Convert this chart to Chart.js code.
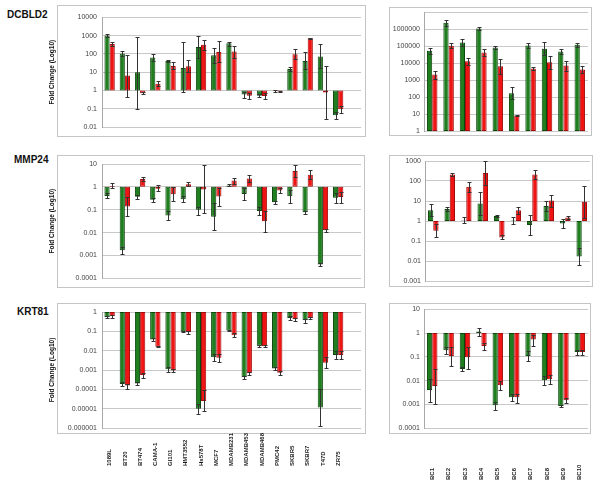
<!DOCTYPE html>
<html><head><meta charset="utf-8">
<script src="https://cdn.jsdelivr.net/npm/chart.js@4.4.1/dist/chart.umd.min.js"></script>
<style>
body{margin:0;width:600px;height:486px;background:#fff;position:relative;overflow:hidden;font-family:"Liberation Sans",Arial,sans-serif}
.box{position:absolute;border:1px solid #c4c4c4;box-sizing:border-box}
.gene{position:absolute;font-weight:bold;font-size:10px;line-height:10px;color:#111;white-space:nowrap}
canvas{position:absolute}
</style></head><body>
<div class="box" style="left:57px;top:5px;width:309px;height:132px"></div>
<div class="box" style="left:57px;top:155px;width:308px;height:133px"></div>
<div class="box" style="left:57px;top:303px;width:309px;height:131px"></div>
<div class="box" style="left:389px;top:7px;width:203px;height:129px"></div>
<div class="box" style="left:389px;top:155px;width:204px;height:132px"></div>
<div class="box" style="left:389px;top:303px;width:202px;height:131px"></div>
<div class="gene" style="left:7px;top:10px">DCBLD2</div>
<div class="gene" style="left:14px;top:155px">MMP24</div>
<div class="gene" style="left:17px;top:307px">KRT81</div>
<canvas id="c1" width="330" height="140" style="left:40px;top:0px"></canvas>
<canvas id="c2" width="215" height="140" style="left:380px;top:0px"></canvas>
<canvas id="c3" width="330" height="140" style="left:40px;top:150px"></canvas>
<canvas id="c4" width="215" height="140" style="left:380px;top:150px"></canvas>
<canvas id="c5" width="330" height="186" style="left:40px;top:300px"></canvas>
<canvas id="c6" width="215" height="186" style="left:380px;top:300px"></canvas>
<script>
// ---------- categories ----------
const cellLines = ['1089L','BT20','BT474','CAMA-1','GI101','HMT3552','Hs578T','MCF7','MDAMB231','MDAMB453','MDAMB468','PMC42','SKBR5','SKBR7','T47D','ZR75'];
const bcSamples = ['BC1','BC2','BC3','BC4','BC5','BC6','BC7','BC8','BC9','BC10'];

// ---------- DCBLD2, cell lines ----------
const dcbld2CellGreen   = [1000, 105, 10, 63, 41, 17, 240, 84, 380, 0.6, 0.51, 0.95, 15, 41, 71, 0.044];
const dcbld2CellGreenLo = [830, 75, 0.1, 40, 35, 0.78, 56, 30, 280, 0.4, 0.43, 0.86, 12, 15, 16, 0.026];
const dcbld2CellGreenHi = [1200, 144, 890, 100, 48, 420, 1000, 220, 420, 0.8, 0.6, 1.05, 20, 122, 335, 0.07];
const dcbld2CellRed     = [350, 6.6, 0.7, 2.3, 22, 21, 320, 125, 133, 0.51, 0.5, 0.88, 95, 720, 0.78, 0.094];
const dcbld2CellRedLo   = [270, 0.45, 0.62, 1.7, 14, 10, 170, 35, 60, 0.33, 0.33, 0.82, 50, 690, 0.026, 0.06];
const dcbld2CellRedHi   = [450, 87, 0.85, 3.2, 36, 46, 600, 500, 285, 0.75, 0.7, 0.95, 178, 745, 22.6, 0.14];
// ---------- DCBLD2, BC ----------
const dcbld2BcGreen   = [52000, 2300000, 160000, 1070000, 81000, 167, 107000, 69000, 48000, 117000];
const dcbld2BcGreenLo = [35000, 1600000, 100000, 850000, 67000, 75, 75000, 29000, 33000, 90000];
const dcbld2BcGreenHi = [81000, 3300000, 260000, 1350000, 98000, 375, 152000, 166000, 69000, 150000];
const dcbld2BcRed     = [2100, 102000, 12600, 42000, 6500, 8.1, 4700, 11000, 7100, 4200];
const dcbld2BcRedLo   = [1200, 72000, 8000, 27000, 2400, 7.6, 3900, 4500, 3600, 2500];
const dcbld2BcRedHi   = [3600, 145000, 19600, 66000, 18000, 8.6, 5600, 27000, 13800, 7000];
// ---------- MMP24, cell lines ----------
const mmp24CellGreen   = [0.4, 0.0017, 0.37, 0.27, 0.056, 0.29, 0.1, 0.049, 1.14, 0.49, 0.087, 0.21, 0.39, 0.078, 0.0004, 0.33];
const mmp24CellGreenLo = [0.33, 0.0012, 0.3, 0.22, 0.035, 0.21, 0.056, 0.013, 1.05, 0.27, 0.058, 0.18, 0.2, 0.068, 0.00035, 0.2];
const mmp24CellGreenHi = [0.52, 0.0023, 0.45, 0.34, 0.09, 0.4, 0.13, 0.2, 1.3, 0.9, 0.13, 0.25, 0.75, 0.09, 0.00045, 0.55];
const mmp24CellRed     = [1.1, 0.14, 2.2, 0.82, 0.48, 1.3, 0.76, 0.38, 1.9, 2.3, 0.031, 0.69, 4.9, 3.4, 0.0127, 0.36];
const mmp24CellRedLo   = [0.85, 0.053, 1.8, 0.65, 0.25, 1.05, 0.07, 0.14, 1.4, 1.6, 0.011, 0.55, 2.8, 2.1, 0.011, 0.2];
const mmp24CellRedHi   = [1.45, 0.35, 2.7, 1.2, 0.95, 1.7, 9.2, 0.9, 2.5, 3.4, 0.09, 0.85, 8.9, 5.5, 0.015, 0.62];
// ---------- MMP24, BC ----------
const mmp24BcGreen   = [3.4, 4.0, 1.05, 7.5, 1.8, 1.05, 0.63, 5.6, 0.74, 0.017];
const mmp24BcGreenLo = [1.7, 3.2, 0.75, 2.1, 1.5, 0.68, 0.2, 3.2, 0.43, 0.0065];
const mmp24BcGreenHi = [6.7, 5.0, 1.5, 27, 2.1, 1.6, 2.1, 9.9, 1.25, 0.045];
const mmp24BcRed     = [0.33, 210, 51, 250, 0.15, 3.4, 210, 10.6, 1.5, 9.1];
const mmp24BcRedLo   = [0.15, 170, 29, 63, 0.12, 2.3, 130, 5.3, 1.25, 1.4];
const mmp24BcRedHi   = [0.72, 260, 90, 1000, 0.19, 5.0, 340, 21, 1.8, 59];
// ---------- KRT81, cell lines ----------
const krt81CellGreen   = [0.55, 0.00019, 0.0002, 0.038, 0.0011, 0.1, 0.00001, 0.0045, 0.11, 0.00042, 0.018, 0.0012, 0.49, 0.37, 0.0000115, 0.0059];
const krt81CellGreenLo = [0.5, 0.00015, 0.00017, 0.033, 0.0008, 0.093, 0.0000052, 0.0029, 0.1, 0.00035, 0.016, 0.001, 0.4, 0.28, 0.0000013, 0.0035];
const krt81CellGreenHi = [0.65, 0.00025, 0.00024, 0.045, 0.0014, 0.11, 0.000018, 0.007, 0.12, 0.0005, 0.02, 0.0015, 0.6, 0.45, 0.0001, 0.01];
const krt81CellRed     = [0.6, 0.00016, 0.00055, 0.016, 0.00095, 0.089, 0.000025, 0.0043, 0.063, 0.00067, 0.017, 0.00072, 0.42, 0.49, 0.0024, 0.0059];
const krt81CellRedLo   = [0.5, 0.00011, 0.0004, 0.015, 0.0008, 0.077, 0.0000072, 0.0025, 0.048, 0.00058, 0.015, 0.00055, 0.35, 0.44, 0.0012, 0.0035];
const krt81CellRedHi   = [0.7, 0.0002, 0.0007, 0.018, 0.0011, 0.1, 0.00009, 0.007, 0.08, 0.0008, 0.019, 0.0009, 0.5, 0.55, 0.0045, 0.01];
// ---------- KRT81, BC ----------
const krt81BcGreen   = [0.0041, 0.19, 0.031, 1.17, 0.00093, 0.002, 0.11, 0.0104, 0.00087, 0.16];
const krt81BcGreenLo = [0.0013, 0.13, 0.026, 0.77, 0.0006, 0.0014, 0.067, 0.0065, 0.00077, 0.12];
const krt81BcGreenHi = [0.0115, 0.25, 0.036, 1.7, 0.0013, 0.0028, 0.18, 0.016, 0.001, 0.2];
const krt81BcRed     = [0.006, 0.11, 0.096, 0.29, 0.0064, 0.002, 0.54, 0.0115, 0.0015, 0.16];
const krt81BcRedLo   = [0.0011, 0.041, 0.031, 0.19, 0.0041, 0.0012, 0.29, 0.007, 0.0012, 0.12];
const krt81BcRedHi   = [0.031, 0.27, 0.27, 0.4, 0.01, 0.0028, 0.8, 0.018, 0.0018, 0.2];

// ---------- y tick values & labels ----------
const dcbld2CellTicks = [0.01, 0.1, 1, 10, 100, 1000, 10000];
const dcbld2CellTickLabels = ['0.01','0.1','1','10','100','1000','10000'];
const dcbld2BcTicks = [1, 10, 100, 1000, 10000, 100000, 1000000, 10000000];
const dcbld2BcTickLabels = ['1','10','100','1000','10000','100000','1000000',''];
const mmp24CellTicks = [0.0001, 0.001, 0.01, 0.1, 1, 10];
const mmp24CellTickLabels = ['0.0001','0.001','0.01','0.1','1','10'];
const mmp24BcTicks = [0.001, 0.01, 0.1, 1, 10, 100, 1000];
const mmp24BcTickLabels = ['0.001','0.01','0.1','1','10','100','1000'];
const krt81CellTicks = [0.000001, 0.00001, 0.0001, 0.001, 0.01, 0.1, 1];
const krt81CellTickLabels = ['0.000001','0.00001','0.0001','0.001','0.01','0.1','1'];
const krt81BcTicks = [0.0001, 0.001, 0.01, 0.1, 1, 10];
const krt81BcTickLabels = ['0.0001','0.001','0.01','0.1','1','10'];

const yTitle = 'Fold Change (Log10)';
const GREEN = '#1f7f1f', GREEN_EDGE = '#0c470c', RED = '#ee1414', RED_EDGE = '#a40b0b';

const errorBarPlugin = {
  id: 'errorBars',
  afterDatasetsDraw(chart) {
    const ctx = chart.ctx, ys = chart.scales.y;
    chart.data.datasets.forEach((ds, di) => {
      const meta = chart.getDatasetMeta(di);
      meta.data.forEach((bar, i) => {
        const x = Math.round(bar.x) + 0.5;
        const y1 = Math.round(ys.getPixelForValue(ds.errLo[i])) + 0.5;
        const y2 = Math.round(ys.getPixelForValue(ds.errHi[i])) + 0.5;
        ctx.save();
        ctx.strokeStyle = '#333';
        ctx.lineWidth = 1;
        ctx.beginPath();
        ctx.moveTo(x, y1); ctx.lineTo(x, y2);
        ctx.moveTo(x - 2, y1); ctx.lineTo(x + 2, y1);
        ctx.moveTo(x - 2, y2); ctx.lineTo(x + 2, y2);
        ctx.stroke();
        ctx.restore();
      });
    });
  }
};

const xLabelPlugin = {
  id: 'xLabels',
  afterDraw(chart, args, opts) {
    if (!opts.show) return;
    const ctx = chart.ctx, xs = chart.scales.x;
    ctx.save();
    ctx.font = 'bold 6px "Liberation Sans Narrow", "Liberation Sans", Arial, sans-serif';
    ctx.fillStyle = '#1a1a1a';
    ctx.textAlign = 'left';
    ctx.textBaseline = 'middle';
    chart.data.labels.forEach((lab, i) => {
      ctx.save();
      ctx.translate(xs.getPixelForValue(i), chart.chartArea.bottom + opts.offset);
      ctx.rotate(-Math.PI / 2);
      ctx.fillText(lab, 0, 0);
      ctx.restore();
    });
    ctx.restore();
  }
};

function makePanel(id, cats, g, gLo, gHi, r, rLo, rHi, ticks, tickLabels, geo) {
  const pts = arr => arr.map((v, i) => ({x: i, y: [1, v]}));
  new Chart(document.getElementById(id), {
    type: 'bar',
    data: {
      labels: cats,
      datasets: [
        {data: pts(g), errLo: gLo, errHi: gHi, backgroundColor: GREEN, borderColor: GREEN_EDGE, borderWidth: 1, borderSkipped: false},
        {data: pts(r), errLo: rLo, errHi: rHi, backgroundColor: RED, borderColor: RED_EDGE, borderWidth: 1, borderSkipped: false}
      ]
    },
    options: {
      responsive: false, animation: false, devicePixelRatio: 1,
      layout: {padding: {left: 0, top: geo.padTop, right: geo.padRight, bottom: geo.padBottom}},
      plugins: {legend: {display: false}, tooltip: {enabled: false},
        xLabels: {show: geo.xLabels, offset: geo.labelOffset}},
      datasets: {bar: {categoryPercentage: geo.catPct, barPercentage: 1}},
      scales: {
        x: {type: 'linear', display: false, min: -0.5, max: cats.length - 0.5 + geo.extraSlots, offset: false,
            afterBuildTicks: s => { s.ticks = cats.map((c, i) => ({value: i})); }},
        y: {type: 'logarithmic', min: ticks[0], max: ticks[ticks.length - 1],
            afterBuildTicks: s => { s.ticks = ticks.map(v => ({value: v})); },
            afterFit: s => { s.width = geo.axisW; },
            grid: {color: '#c8c8c8', lineWidth: 1, drawTicks: false},
            border: {display: true, color: '#a8a8a8'},
            ticks: {padding: geo.tickPad, color: '#444', autoSkip: false,
                    font: {size: 7, family: '"Liberation Sans", Arial, sans-serif'},
                    callback: (v, i) => tickLabels[i]},
            title: {display: geo.title, text: yTitle, color: '#111',
                    font: {size: 6.5, weight: 'bold', family: '"Liberation Sans", Arial, sans-serif'},
                    padding: {top: 8, bottom: 0}}
        }
      }
    },
    plugins: [errorBarPlugin, xLabelPlugin]
  });
}

makePanel('c1', cellLines, dcbld2CellGreen, dcbld2CellGreenLo, dcbld2CellGreenHi, dcbld2CellRed, dcbld2CellRedLo, dcbld2CellRedHi,
  dcbld2CellTicks, dcbld2CellTickLabels,
  {padTop: 17.3, padRight: 9, padBottom: 13, axisW: 62, tickPad: 5, title: true, xLabels: false, labelOffset: 0, catPct: 0.68, extraSlots: 1});
makePanel('c2', bcSamples, dcbld2BcGreen, dcbld2BcGreenLo, dcbld2BcGreenHi, dcbld2BcRed, dcbld2BcRedLo, dcbld2BcRedHi,
  dcbld2BcTicks, dcbld2BcTickLabels,
  {padTop: 12, padRight: 7, padBottom: 9, axisW: 44, tickPad: 4, title: false, xLabels: false, labelOffset: 0, catPct: 0.64, extraSlots: 0});
makePanel('c3', cellLines, mmp24CellGreen, mmp24CellGreenLo, mmp24CellGreenHi, mmp24CellRed, mmp24CellRedLo, mmp24CellRedHi,
  mmp24CellTicks, mmp24CellTickLabels,
  {padTop: 14, padRight: 9, padBottom: 11.7, axisW: 62, tickPad: 5, title: true, xLabels: false, labelOffset: 0, catPct: 0.68, extraSlots: 1});
makePanel('c4', bcSamples, mmp24BcGreen, mmp24BcGreenLo, mmp24BcGreenHi, mmp24BcRed, mmp24BcRedLo, mmp24BcRedHi,
  mmp24BcTicks, mmp24BcTickLabels,
  {padTop: 11, padRight: 5, padBottom: 9, axisW: 45, tickPad: 4, title: false, xLabels: false, labelOffset: 0, catPct: 0.64, extraSlots: 0});
makePanel('c5', cellLines, krt81CellGreen, krt81CellGreenLo, krt81CellGreenHi, krt81CellRed, krt81CellRedLo, krt81CellRedHi,
  krt81CellTicks, krt81CellTickLabels,
  {padTop: 12, padRight: 9, padBottom: 58, axisW: 62, tickPad: 5, title: true, xLabels: true, labelOffset: 38, catPct: 0.68, extraSlots: 1});
makePanel('c6', bcSamples, krt81BcGreen, krt81BcGreenLo, krt81BcGreenHi, krt81BcRed, krt81BcRedLo, krt81BcRedHi,
  krt81BcTicks, krt81BcTickLabels,
  {padTop: 9.3, padRight: 7, padBottom: 57.7, axisW: 44, tickPad: 4, title: false, xLabels: true, labelOffset: 51.7, catPct: 0.64, extraSlots: 0});
</script>
</body></html>
